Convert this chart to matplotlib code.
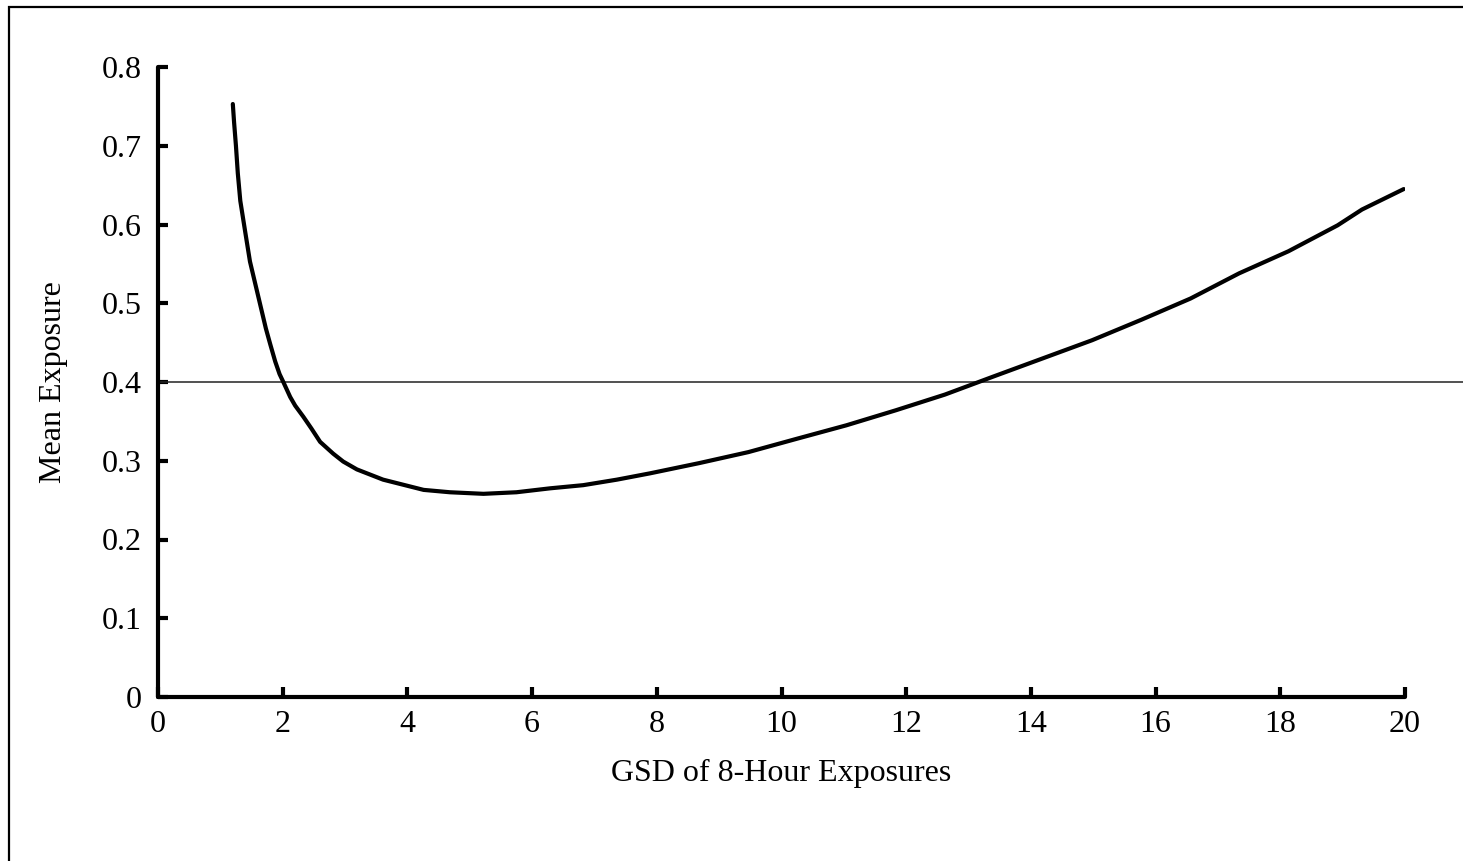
import matplotlib
matplotlib.use("Agg")
import matplotlib.pyplot as plt
from matplotlib.patches import Rectangle

# Data
gsd = [1.20, 1.22, 1.25, 1.28, 1.32, 1.36, 1.40, 1.475, 1.55, 1.61, 1.67, 1.73,
       1.80, 1.88, 1.95, 2.01, 2.12, 2.20, 2.33, 2.46, 2.60, 2.81, 2.97, 3.19,
       3.61, 4.26, 4.68, 5.22, 5.75, 6.29, 6.82, 7.36, 7.89, 8.68, 9.47, 10.25,
       11.04, 11.83, 12.62, 13.40, 14.19, 14.98, 15.77, 16.56, 17.34, 18.13,
       18.92, 19.31, 19.98]
mean_exposure = [0.753, 0.730, 0.700, 0.665, 0.630, 0.610, 0.590, 0.553, 0.528, 0.508,
                 0.488, 0.468, 0.448, 0.426, 0.410, 0.400, 0.381, 0.370, 0.356, 0.341,
                 0.324, 0.309, 0.299, 0.289, 0.276, 0.263, 0.260, 0.258, 0.260, 0.265,
                 0.269, 0.276, 0.284, 0.297, 0.311, 0.328, 0.345, 0.364, 0.384, 0.407,
                 0.430, 0.453, 0.479, 0.506, 0.538, 0.566, 0.599, 0.619, 0.645]
limit_value = 0.4
x_ticks = [0, 2, 4, 6, 8, 10, 12, 14, 16, 18, 20]
y_ticks = [0, 0.1, 0.2, 0.3, 0.4, 0.5, 0.6, 0.7, 0.8]
y_tick_labels = ["0", "0.1", "0.2", "0.3", "0.4", "0.5", "0.6", "0.7", "0.8"]

plt.rcParams['font.family'] = ['Liberation Serif', 'DejaVu Serif']

W, H = 1463, 861
fig = plt.figure(figsize=(W / 100, H / 100), dpi=100)
left, right, bottom, top = 158, 1405, 697, 67
ax = fig.add_axes([left / W, 1 - bottom / H, (right - left) / W, (bottom - top) / H])

ax.plot(gsd, mean_exposure, color='black', lw=3.0, solid_capstyle='round',
        solid_joinstyle='round', zorder=3)
ax.plot([0, (W - left) / (right - left) + 0.01], [limit_value, limit_value],
        transform=ax.get_yaxis_transform(), color='#222222', lw=1.1,
        clip_on=False, zorder=2)

ax.set_xlim(0, 20)
ax.set_ylim(0, 0.8)
ax.set_xticks(x_ticks)
ax.set_yticks(y_ticks)
ax.set_yticklabels(y_tick_labels)
for s in ['top', 'right']:
    ax.spines[s].set_visible(False)
for s in ['left', 'bottom']:
    ax.spines[s].set_linewidth(3.0)
    ax.spines[s].set_capstyle('round')
ax.tick_params(axis='both', direction='in', length=7, width=3.0, labelsize=23,
               colors='black')
ax.tick_params(axis='y', pad=12)
ax.tick_params(axis='x', pad=9)
ax.set_xlabel("GSD of 8-Hour Exposures", fontsize=23, labelpad=15)
ax.set_ylabel("Mean Exposure", fontsize=23, labelpad=24)

# outer frame (partly cut off at right and bottom)
fig.add_artist(Rectangle((9 / W, -0.05), 1.2, 1.05 - 6.5 / H, transform=fig.transFigure,
                         fill=False, edgecolor='black', lw=1.6))

fig.savefig("out.png", dpi=100, facecolor='white')
